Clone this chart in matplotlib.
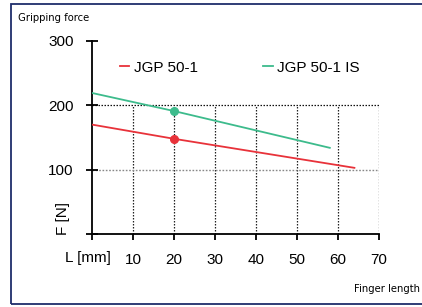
import matplotlib
matplotlib.use("Agg")
import matplotlib.pyplot as plt
from matplotlib.patches import Rectangle
from matplotlib.lines import Line2D

# Data
series_names = ["JGP 50-1", "JGP 50-1 IS"]
jgp_x = [0, 20, 64]
jgp_y = [170, 148, 103]
jgp_is_x = [0, 20, 58]
jgp_is_y = [219, 191, 134]
marker_x = [20]
jgp_marker_y = [148]
jgp_is_marker_y = [191]
x_ticks = [0, 10, 20, 30, 40, 50, 60, 70]
x_tick_labels = ["", "10", "20", "30", "40", "50", "60", "70"]
y_ticks = [0, 100, 200, 300]
y_tick_labels = ["", "100", "200", "300"]
grid_x = [10, 20, 30, 40, 50, 60, 70]

RED = "#e8323a"
GREEN = "#3dbb8c"
NAVY = "#1f2d6b"

plt.rcParams['font.family'] = ["Liberation Sans", "DejaVu Sans"]

fig = plt.figure(figsize=(4.22, 3.07), dpi=100)
fig.patch.set_facecolor("white")

# outer border
fig.patches.append(Rectangle((11/422, 1-304/307), 1.2, 300/307, transform=fig.transFigure,
                             fill=False, edgecolor=NAVY, linewidth=1.3))

ax = fig.add_axes([92/422, 1-234.3/307, 287/422, 193.6/307])
ax.set_xlim(0, 70)
ax.set_ylim(0, 300)
for s in ["top", "right"]:
    ax.spines[s].set_visible(False)
for s in ["left", "bottom"]:
    ax.spines[s].set_linewidth(1.3)
    ax.spines[s].set_color("black")

# grid (only up to 200)
ax.vlines(grid_x, 0, 200, colors="#222222", linestyles=(0, (1.2, 1.2)), linewidth=0.9, zorder=1)
ax.hlines(200, 0, 70, colors="#111111", linestyles=(0, (1.2, 1.2)), linewidth=0.9, zorder=1)
ax.hlines(100, 0, 70, colors="#888888", linestyles=(0, (1.2, 1.2)), linewidth=1.0, zorder=1)

ax.plot(jgp_x, jgp_y, color=RED, linewidth=1.3, zorder=3)
ax.plot(jgp_is_x, jgp_is_y, color=GREEN, linewidth=1.3, zorder=3)
ax.plot(marker_x, jgp_marker_y, "o", color=RED, markersize=5.5, zorder=4)
ax.plot(marker_x, jgp_is_marker_y, "o", color=GREEN, markersize=5.5, zorder=4)

ax.set_xticks(x_ticks)
ax.set_xticklabels(x_tick_labels)
ax.set_yticks(y_ticks)
ax.set_yticklabels(y_tick_labels)
ax.tick_params(axis="x", direction="out", length=4.5, width=1.3, pad=9, labelsize=11)
ax.tick_params(axis="y", direction="inout", length=8.5, width=1.3, pad=9, labelsize=11)

ax.text(-1, -36.5, "L [mm]", ha="center", va="center", fontsize=11, clip_on=False)
ax.text(-7.0, 25, "F [N]", rotation=90, ha="center", va="center", fontsize=11, clip_on=False)

handles = [Line2D([], [], color=RED, linewidth=1.3), Line2D([], [], color=GREEN, linewidth=1.3)]
ax.legend(handles, series_names, loc="center left", bbox_to_anchor=((120-92)/287, 0.86),
          ncol=2, frameon=False, fontsize=11, handlelength=0.62, handletextpad=0.28,
          columnspacing=4.3, borderpad=0, borderaxespad=0)

fig.text(18/422, 1-18/307, "Gripping force", family="DejaVu Sans", fontstretch="condensed",
         fontsize=8, ha="left", va="center")
fig.text(420/422, 1-289/307, "Finger length", family="DejaVu Sans", fontstretch="condensed",
         fontsize=8, ha="right", va="center")

fig.savefig("out.png", dpi=100)
